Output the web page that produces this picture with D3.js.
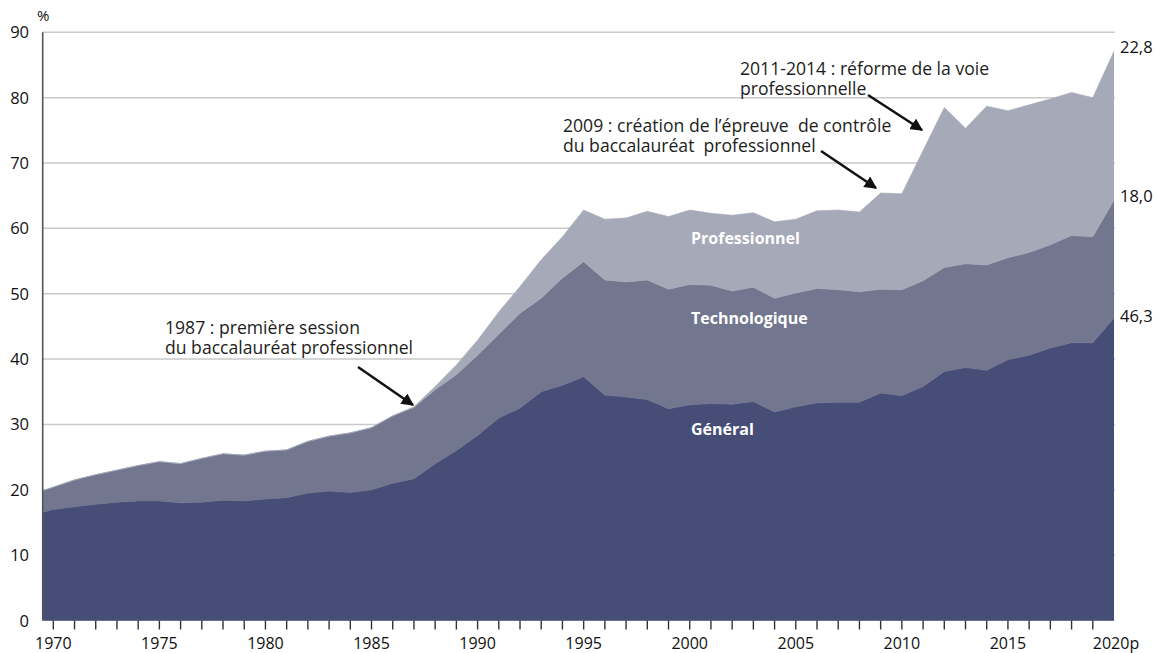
<!DOCTYPE html>
<meta charset="utf-8">
<style>
body {
  margin: 0;
  background: #fff;
  font-family: "Open Sans", sans-serif;
}
.grid line {
  stroke: #c9c9c9;
  stroke-width: 1.5;
}
.lab {
  font-size: 16.5px;
  fill: #111;
}
.note {
  font-size: 17.6px;
  fill: #1d1d1b;
}
.serie {
  font-size: 16px;
  font-weight: bold;
  fill: #fff;
}
</style>
<body>
<script src="https://cdn.jsdelivr.net/npm/d3@7"></script>
<script>

var width = 1159,
    height = 653;

// years and the three series (% of a generation)
var years = d3.range(1969, 2021);

var general = [16.1, 17.0, 17.4, 17.8, 18.1, 18.3, 18.3, 18.0, 18.1, 18.4,
  18.3, 18.6, 18.8, 19.5, 19.8, 19.6, 20.0, 21.0, 21.7, 24.0,
  26.0, 28.3, 31.0, 32.5, 35.0, 36.0, 37.3, 34.5, 34.2, 33.8,
  32.4, 33.0, 33.2, 33.1, 33.5, 31.9, 32.7, 33.3, 33.4, 33.4,
  34.8, 34.4, 35.8, 38.1, 38.7, 38.3, 39.9, 40.6, 41.7, 42.5,
  42.5, 46.3];

var techno = [3.2, 3.4, 4.1, 4.5, 4.9, 5.4, 6.0, 6.0, 6.7, 7.1,
  7.0, 7.3, 7.3, 7.9, 8.4, 9.1, 9.5, 10.3, 10.9, 11.3,
  11.6, 12.3, 12.8, 14.5, 14.3, 16.4, 17.6, 17.6, 17.6, 18.3,
  18.3, 18.4, 18.1, 17.3, 17.5, 17.4, 17.4, 17.5, 17.2, 16.9,
  15.9, 16.2, 16.2, 15.9, 15.9, 16.1, 15.6, 15.7, 15.8, 16.4,
  16.2, 18.0];

var pro = [0, 0, 0, 0, 0, 0, 0, 0, 0, 0,
  0, 0, 0, 0, 0, 0, 0, 0, 0.1, 0.5,
  1.5, 2.3, 3.4, 4.1, 5.9, 6.3, 7.9, 9.3, 9.8, 10.5,
  11.1, 11.4, 11.0, 11.6, 11.4, 11.7, 11.3, 11.9, 12.2, 12.2,
  14.7, 14.7, 19.9, 24.5, 20.7, 24.3, 22.5, 22.6, 22.3, 21.9,
  21.3, 22.8];

var keys = ["general", "techno", "pro"];
var colors = {general: "#464e78", techno: "#72768f", pro: "#a6a9b8"};
var yTicks = d3.range(0, 100, 10);
var xLabels = [1970, 1975, 1980, 1985, 1990, 1995, 2000, 2005, 2010, 2015, 2020];
var endLabels = ["46,3", "18,0", "22,8"];

var rows = years.map(function(y, i) {
  return {year: y, general: general[i], techno: techno[i], pro: pro[i]};
});

var x = d3.scaleLinear().domain([1969.5, 2020]).range([42.7, 1114]);
var y = d3.scaleLinear().domain([0, 90]).range([620.5, 32.3]);

var svg = d3.select("body").append("svg")
    .attr("width", width)
    .attr("height", height);

svg.append("clipPath").attr("id", "clip")
  .append("rect")
    .attr("x", x(1969.5))
    .attr("y", 0)
    .attr("width", x(2020) - x(1969.5))
    .attr("height", height);

// grid
svg.append("g").attr("class", "grid")
  .selectAll("line")
  .data(yTicks.filter(function(d) { return d > 0; }))
  .enter().append("line")
    .attr("x1", x(1969.5))
    .attr("x2", x(2020) + 1)
    .attr("y1", function(d) { return y(d); })
    .attr("y2", function(d) { return y(d); });

var stack = d3.stack().keys(keys);
var series = stack(rows);

var area = d3.area()
  .x(function(d) { return x(d.data.year); })
  .y0(function(d) { return y(d[0]); })
  .y1(function(d) { return y(d[1]); });

svg.append("g").attr("clip-path", "url(#clip)")
  .selectAll("path")
  .data(series)
  .enter().append("path")
    .attr("d", area)
    .style("fill", function(d) { return colors[d.key]; })
    .style("stroke", function(d) { return colors[d.key]; })
    .style("stroke-width", 0.6);

// left axis line
svg.append("line")
  .attr("x1", x(1969.5)).attr("x2", x(1969.5))
  .attr("y1", y(90)).attr("y2", y(0))
  .style("stroke", "#555")
  .style("stroke-width", 1.6);

// y labels
svg.append("g").selectAll("text")
  .data(yTicks)
  .enter().append("text")
    .attr("class", "lab")
    .attr("x", 29)
    .attr("y", function(d) { return y(d) + 6; })
    .attr("text-anchor", "end")
    .text(function(d) { return d; });

svg.append("text")
  .attr("class", "lab")
  .attr("x", 37)
  .attr("y", 21)
  .style("font-size", "15px")
  .text("%");

// x ticks
svg.append("g").selectAll("line")
  .data(d3.range(1970, 2020))
  .enter().append("line")
    .attr("x1", function(d) { return x(d); })
    .attr("x2", function(d) { return x(d); })
    .attr("y1", y(0))
    .attr("y2", y(0) + 9)
    .style("stroke", "#333")
    .style("stroke-width", 1.4);

svg.append("g").selectAll("text")
  .data(xLabels)
  .enter().append("text")
    .attr("class", "lab")
    .attr("x", function(d) { return d === 2020 ? x(d) + 2 : x(d); })
    .attr("y", 649)
    .attr("text-anchor", "middle")
    .style("font-size", "16px")
    .text(function(d) { return d === 2020 ? "2020p" : d; });

// values at the right end
var last = series.map(function(s) { return s[s.length - 1]; });
svg.append("g").selectAll("text")
  .data(last)
  .enter().append("text")
    .attr("class", "lab")
    .attr("x", 1120)
    .attr("y", function(d, i) { return (i === 0 ? y(d[1]) + 4 : y(d[1]) + 2); })
    .text(function(d, i) { return endLabels[i]; });

// series labels
var serieLabels = [
  {text: "Général", y: 435},
  {text: "Technologique", y: 324},
  {text: "Professionnel", y: 244}
];
svg.append("g").selectAll("text")
  .data(serieLabels)
  .enter().append("text")
    .attr("class", "serie")
    .attr("x", 691)
    .attr("y", function(d) { return d.y; })
    .text(function(d) { return d.text; });

// annotations
svg.append("defs").append("marker")
    .attr("id", "arrow")
    .attr("viewBox", "0 0 10 10")
    .attr("refX", 9)
    .attr("refY", 5)
    .attr("markerWidth", 5)
    .attr("markerHeight", 5)
    .attr("orient", "auto")
  .append("path")
    .attr("d", "M0,0L10,5L0,10z")
    .style("fill", "#111");

var notes = [
  {lines: ["1987 : première session", "du baccalauréat professionnel"], x: 165, y: 334,
   arrow: [358, 367, 413, 405]},
  {lines: ["2009 : création de l\u2019épreuve  de contrôle", "du baccalauréat  professionnel"], x: 563, y: 132,
   arrow: [821, 151, 876, 188]},
  {lines: ["2011-2014 : réforme de la voie", "professionnelle"], x: 740, y: 75,
   arrow: [868, 95, 922, 130]}
];

notes.forEach(function(n) {
  n.lines.forEach(function(l, i) {
    svg.append("text")
      .attr("class", "note")
      .attr("x", n.x)
      .attr("y", n.y + i * 19.5)
      .style("white-space", "pre")
      .text(l);
  });
  svg.append("line")
    .attr("x1", n.arrow[0]).attr("y1", n.arrow[1])
    .attr("x2", n.arrow[2]).attr("y2", n.arrow[3])
    .style("stroke", "#111")
    .style("stroke-width", 2.5)
    .attr("marker-end", "url(#arrow)");
});

</script>
